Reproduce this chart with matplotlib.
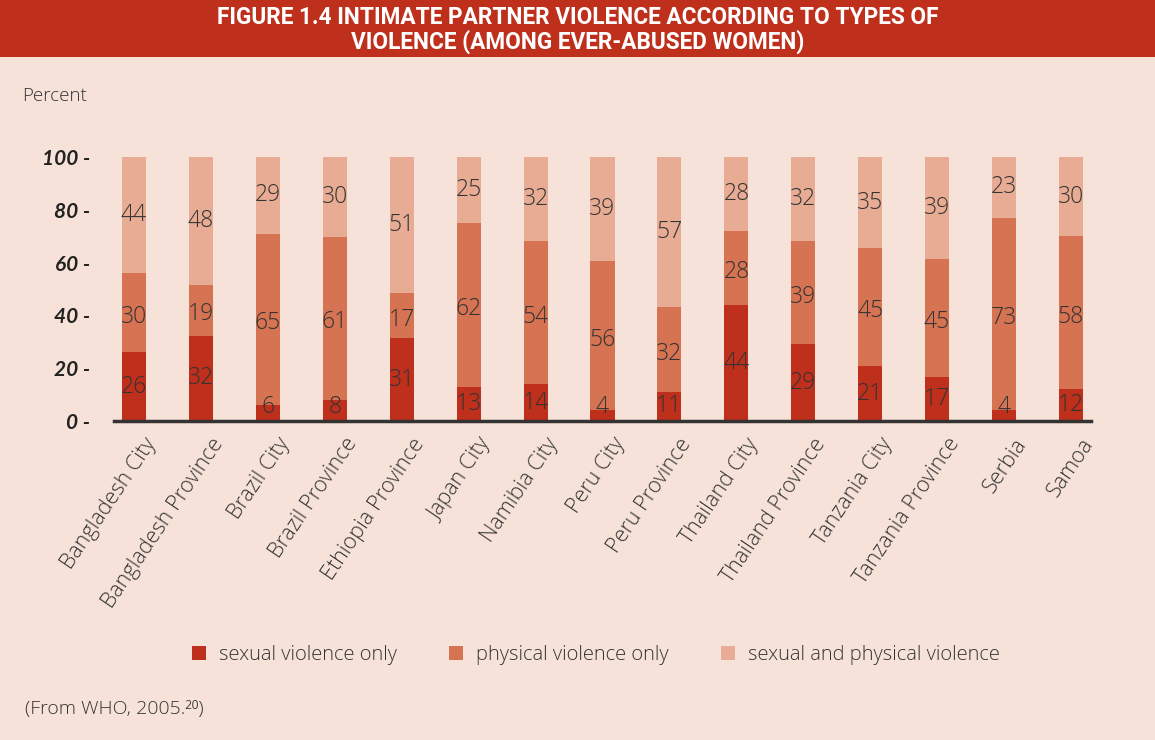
import matplotlib
matplotlib.use("Agg")
import matplotlib.pyplot as plt
from matplotlib.patches import Patch, Rectangle
from matplotlib.transforms import ScaledTranslation
import numpy as np

categories = ["Bangladesh City", "Bangladesh Province", "Brazil City", "Brazil Province",
              "Ethiopia Province", "Japan City", "Namibia City", "Peru City", "Peru Province",
              "Thailand City", "Thailand Province", "Tanzania City", "Tanzania Province",
              "Serbia", "Samoa"]
sexual_only = [26, 32, 6, 8, 31, 13, 14, 4, 11, 44, 29, 21, 17, 4, 12]
physical_only = [30, 19, 65, 61, 17, 62, 54, 56, 32, 28, 39, 45, 45, 73, 58]
both = [44, 48, 29, 30, 51, 25, 32, 39, 57, 28, 32, 35, 39, 23, 30]
series_names = ["sexual violence only", "physical violence only", "sexual and physical violence"]
yticks = [0, 20, 40, 60, 80, 100]

BG = "#F6E2D8"
C_SEX = "#BE2F1C"
C_PHY = "#D57352"
C_BOTH = "#E7AC93"
TXT = "#333333"
FAM = ["Open Sans", "DejaVu Sans"]
WT = 300

fig = plt.figure(figsize=(11.55, 7.40), dpi=100)
fig.patch.set_facecolor(BG)

# Title banner
fig.patches.append(Rectangle((0, 1 - 57 / 740), 1, 57 / 740, transform=fig.transFigure,
                             facecolor=C_SEX, edgecolor="none", zorder=0))
fig.text(0.5, 1 - 18 / 740, "FIGURE 1.4 INTIMATE PARTNER VIOLENCE ACCORDING TO TYPES OF",
         ha="center", va="center", color="white", fontsize=16.3, fontweight="bold",
         family="Roboto")
fig.text(0.5, 1 - 42 / 740, "VIOLENCE (AMONG EVER-ABUSED WOMEN)",
         ha="center", va="center", color="white", fontsize=16.3, fontweight="bold",
         family="Roboto")

fig.text(22 / 1155, 1 - 96 / 740, "Percent", ha="left", va="center", color=TXT,
         fontsize=13.5, family=FAM, fontweight=WT)

ax = fig.add_axes([114 / 1155, (740 - 421) / 740, 977 / 1155, 264 / 740])
ax.set_facecolor(BG)
x = np.arange(len(categories))
w = 0.36
s = np.array(sexual_only, dtype=float)
p = np.array(physical_only, dtype=float)
b = np.array(both, dtype=float)
tot = s + p + b
# bars are drawn as shares of 100 (each column fills the full height)
sh, ph, bh = s / tot * 100, p / tot * 100, b / tot * 100
ax.bar(x, sh, w, color=C_SEX, zorder=2)
ax.bar(x, ph, w, bottom=sh, color=C_PHY, zorder=2)
ax.bar(x, bh, w, bottom=sh + ph, color=C_BOTH, zorder=2)

kw = dict(ha="center", va="center", color=TXT, fontsize=16.5, family=FAM, fontweight=WT, zorder=3)
for i in range(len(categories)):
    ax.text(x[i], max(sh[i] / 2, 5.2), f"{s[i]:.0f}", **kw)
    ax.text(x[i], sh[i] + ph[i] / 2 - 1.5, f"{p[i]:.0f}", **kw)
    ax.text(x[i], sh[i] + ph[i] + bh[i] / 2, f"{b[i]:.0f}", **kw)

ax.set_xlim(-0.3, 14.3)
ax.set_ylim(0, 100)
for sp in ["top", "right", "left"]:
    ax.spines[sp].set_visible(False)
ax.spines["bottom"].set_color("#333333")
ax.spines["bottom"].set_linewidth(2.5)
ax.spines["bottom"].set_zorder(4)

ax.set_yticks(yticks)
ax.set_yticklabels([f"{v} -" for v in yticks], fontsize=15, fontweight="bold",
                   fontstyle="italic", color="#222222", family=["Lato", "DejaVu Sans"])
ax.tick_params(axis="y", length=0, pad=17)

ax.set_xticks(x)
ax.set_xticklabels(categories, rotation=56, ha="right", va="center", rotation_mode="anchor",
                   fontsize=15.5, color=TXT, family=FAM, fontweight=WT)
ax.tick_params(axis="x", length=0, pad=0)
off = ScaledTranslation(18 / 100, -19 / 100, fig.dpi_scale_trans)
for lab in ax.get_xticklabels():
    lab.set_transform(lab.get_transform() + off)

handles = [Patch(facecolor=c, edgecolor="none") for c in (C_SEX, C_PHY, C_BOTH)]
leg = fig.legend(handles, series_names, loc="center", bbox_to_anchor=(0.516, 1 - 655 / 740),
                 ncol=3, frameon=False, handlelength=0.7, handleheight=0.7,
                 handletextpad=0.65, columnspacing=2.6,
                 prop={"family": FAM, "weight": WT, "size": 14.5})
for t in leg.get_texts():
    t.set_color(TXT)

fig.text(25 / 1155, 1 - 709 / 740, "(From WHO, 2005.²⁰)", ha="left", va="center", color=TXT,
         fontsize=14, family=FAM, fontweight=WT)

fig.savefig("out.png", dpi=100, facecolor=BG)
